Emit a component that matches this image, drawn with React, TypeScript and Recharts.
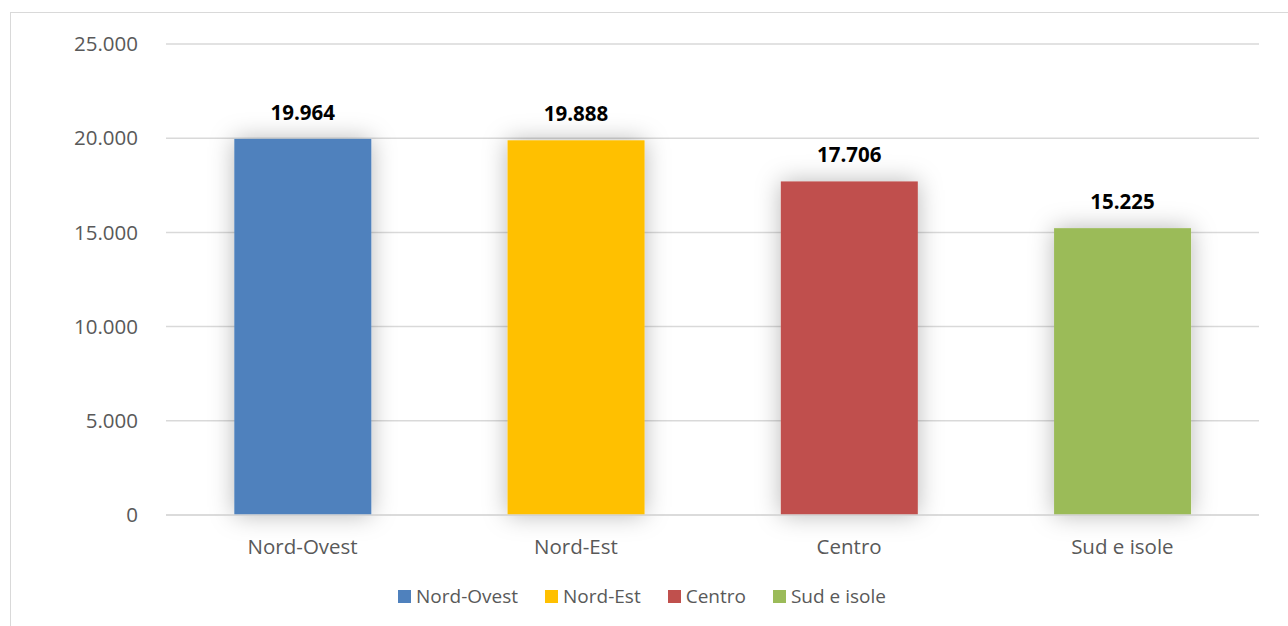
import { Bar, BarChart, CartesianGrid, Cell, LabelList, Legend, XAxis, YAxis } from 'recharts';

const categories = ['Nord-Ovest', 'Nord-Est', 'Centro', 'Sud e isole'];
const values = [19964, 19888, 17706, 15225];
const colors = ['#4F81BD', '#FFC000', '#C0504D', '#9BBB59'];
const yTicks = [0, 5000, 10000, 15000, 20000, 25000];

const data = categories.map((name, i) => ({ name, value: values[i] }));

const FONT = '"Open Sans", sans-serif';

function formatIt(n: number) {
  return String(n).replace(/\B(?=(\d{3})+(?!\d))/g, '.');
}

function ShadowBar(props: any) {
  const { x, y, width, height, fill } = props;
  if (!height || height <= 0) return null;
  return <rect x={x} y={y} width={width} height={height} fill={fill} filter="url(#barShadow)" />;
}

function LegendContent() {
  return (
    <div style={{ display: 'flex', justifyContent: 'center', alignItems: 'center', fontFamily: FONT, fontSize: 19, color: '#595959' }}>
      {categories.map((c, i) => (
        <div key={c} style={{ display: 'flex', alignItems: 'center', marginRight: i < categories.length - 1 ? 27 : 0 }}>
          <span style={{ display: 'inline-block', width: 13, height: 13, background: colors[i], marginRight: 5 }} />
          <span>{c}</span>
        </div>
      ))}
    </div>
  );
}

export default function App() {
  return (
    <div style={{ position: 'fixed', left: 0, top: 0, width: 1288, height: 626, overflow: 'hidden', background: '#fff' }}>
      <svg width={0} height={0} style={{ position: 'absolute' }}>
        <defs>
          <filter id="barShadow" x="-50%" y="-20%" width="200%" height="140%">
            <feDropShadow dx={0} dy={0} stdDeviation={12} floodColor="#000" floodOpacity={0.28} />
          </filter>
        </defs>
      </svg>
      <div style={{ position: 'absolute', left: 10, top: 12, width: 1300, height: 640, border: '1px solid #d9d9d9' }} />
      <div style={{ position: 'absolute', left: 0, top: 0 }}>
        <BarChart
          width={1288}
          height={626}
          data={data}
          margin={{ top: 44, right: 29, left: 66, bottom: 45 }}
          barCategoryGap="25%"
        >
          <CartesianGrid vertical={false} stroke="#d9d9d9" strokeWidth={1.5} />
          <XAxis
            dataKey="name"
            height={40}
            tickLine={false}
            axisLine={{ stroke: '#d9d9d9', strokeWidth: 1.5 }}
            tickSize={0}
            tickMargin={24}
            tick={{ fill: '#595959', fontSize: 20.5, fontFamily: FONT }}
          />
          <YAxis
            width={100}
            domain={[0, 25000]}
            ticks={yTicks}
            tickFormatter={formatIt}
            axisLine={false}
            tickLine={false}
            tickSize={0}
            tickMargin={28}
            tick={{ fill: '#595959', fontSize: 20.5, fontFamily: FONT }}
          />
          <Legend
            verticalAlign="bottom"
            content={() => <LegendContent />}
            wrapperStyle={{ left: 0, width: 1284, bottom: 17 }}
          />
          <Bar dataKey="value" isAnimationActive={false} shape={<ShadowBar />}>
            {data.map((d, i) => (
              <Cell key={d.name} fill={colors[i]} />
            ))}
            <LabelList
              dataKey="value"
              position="top"
              offset={19}
              formatter={(v: any) => formatIt(Number(v))}
              style={{ fill: '#000', fontSize: 20.5, fontWeight: 700, fontFamily: FONT }}
            />
          </Bar>
        </BarChart>
      </div>
    </div>
  );
}
